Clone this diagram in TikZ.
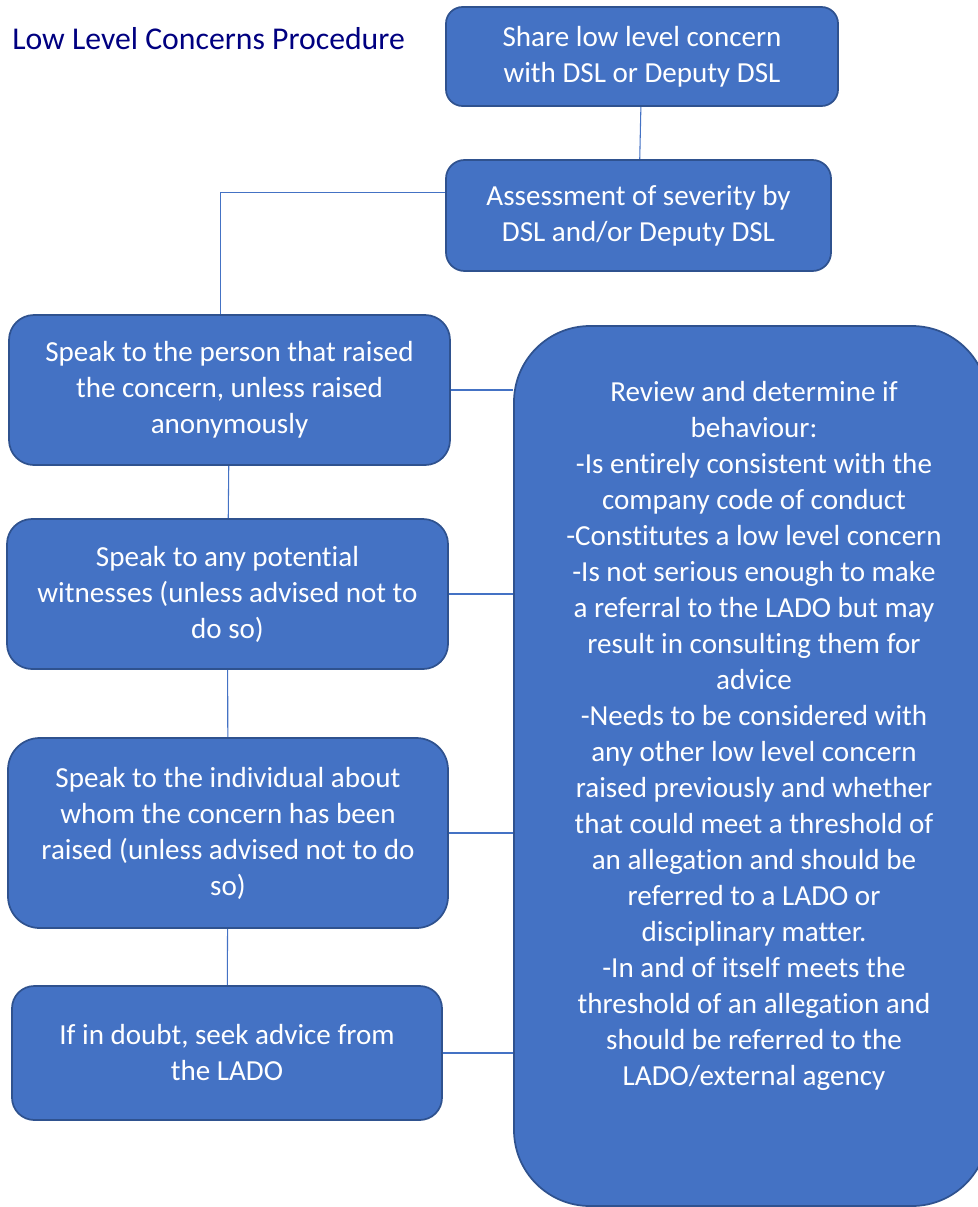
\documentclass[tikz,border=0pt]{standalone}
\usepackage{fontspec}
\setmainfont{Carlito}[Ligatures=NoCommon]
\usepackage{tikz}
\usetikzlibrary{positioning,calc,backgrounds}
\definecolor{boxblue}{HTML}{4472C4}
\definecolor{boxedge}{HTML}{2F528F}
\definecolor{titlenavy}{HTML}{000080}

\begin{document}
\begin{tikzpicture}[x=0.75pt,y=-0.75pt,
  stage/.style={draw=boxedge, line width=1.3pt, fill=boxblue, text=white,
    align=center, inner sep=0pt, font=\fontsize{21.8}{27}\selectfont},
  link/.style={draw=boxblue, line width=0.8pt}]
\useasboundingbox (0,0) rectangle (978,1207);
\clip (0,0) rectangle (978,1207);
\node[anchor=base west, inner sep=0pt, text=titlenavy,
  font=\fontsize{23.8}{29}\selectfont] (title) at (12,49) {Low Level Concerns Procedure};
% top column
\node[stage, minimum width=294pt, minimum height=74.25pt, rounded corners=12.4pt]
  (share) at (642,56.5) {Share low level concern\\with DSL or Deputy DSL};
\node[stage, minimum width=288.75pt, minimum height=83.25pt, rounded corners=13.9pt]
  (assess) at (638.5,215.5) {Assessment of severity by\\DSL and/or Deputy DSL};
% left column
\node[stage, minimum width=330.75pt, minimum height=112.5pt, rounded corners=18.75pt]
  (person) at (229.5,390) {Speak to the person that raised\\the concern, unless raised\\anonymously};
\node[stage, minimum width=330.75pt, minimum height=112.5pt, rounded corners=18.75pt]
  (witness) at (227.5,594) {Speak to any potential\\witnesses (unless advised not to\\do so)};
\node[stage, minimum width=330pt, minimum height=142.5pt, rounded corners=23.75pt]
  (individual) at (228,833) {Speak to the individual about\\whom the concern has been\\raised (unless advised not to do\\so)};
\node[stage, minimum width=322.5pt, minimum height=100.5pt, rounded corners=16.75pt]
  (doubt) at (227,1053) {If in doubt, seek advice from\\the LADO};
% review box
\node[stage, minimum width=355.5pt, minimum height=660pt, rounded corners=57pt]
  (review) at (751,766) {};
\node[stage, draw=none, fill=none] (reviewtext) at (754,736)
  {Review and determine if\\behaviour:\\-Is entirely consistent with the\\company code of conduct\\
   -Constitutes a low level concern\\-Is not serious enough to make\\a referral to the LADO but may\\
   result in consulting them for\\advice\\-Needs to be considered with\\any other low level concern\\
   raised previously and whether\\that could meet a threshold of\\an allegation and should be\\
   referred to a LADO or\\disciplinary matter.\\-In and of itself meets the\\
   threshold of an allegation and\\should be referred to the\\LADO/external agency};
\begin{scope}[on background layer]
\draw[link] (share) -- (assess);
\draw[link] ([yshift=17.6pt]assess.west) -| ([xshift=-7pt]person.north);
\draw[link] (person) -- (witness);
\draw[link] (witness) -- (individual);
\draw[link] (individual) -- (doubt);
\foreach \n in {person,witness,individual,doubt}
  \draw[link] (\n.east) -- (\n.east -| review.west);
\end{scope}
\end{tikzpicture}
\end{document}
